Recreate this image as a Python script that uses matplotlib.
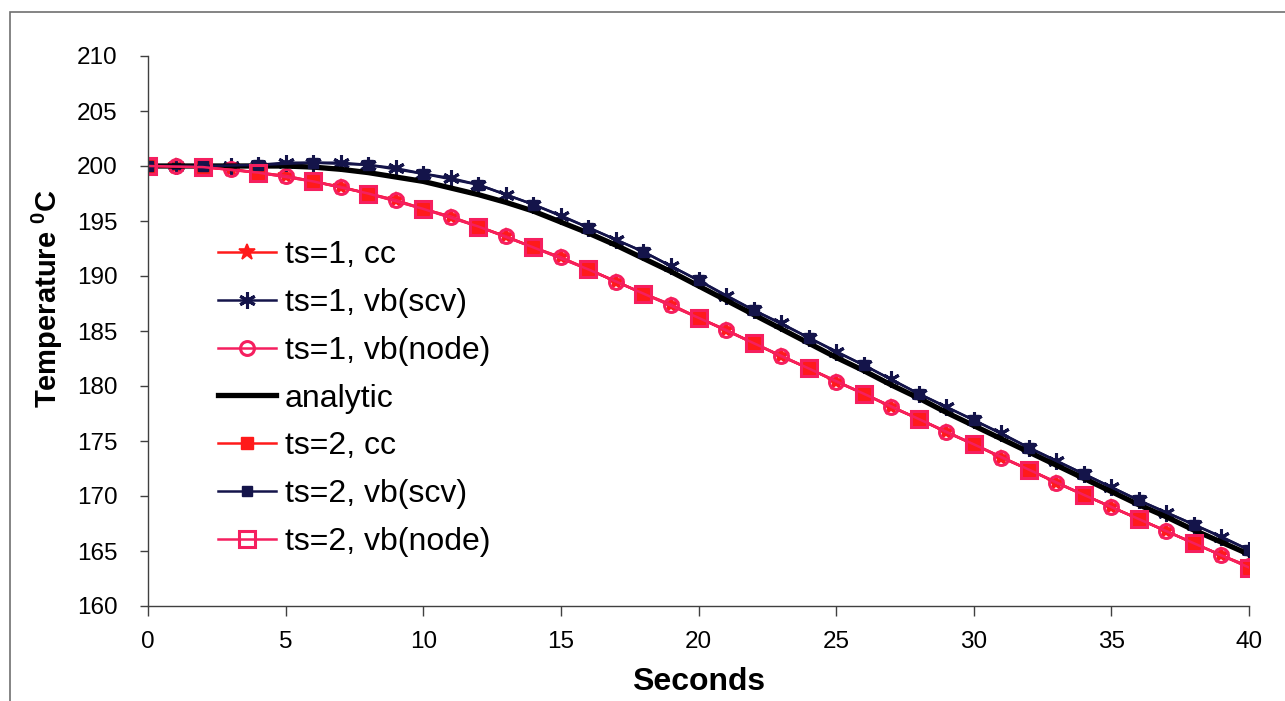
import matplotlib
matplotlib.use("Agg")
import matplotlib.pyplot as plt
from matplotlib.patches import Rectangle

plt.rcParams['font.family'] = ['Liberation Sans', 'DejaVu Sans']
plt.rcParams['mathtext.fontset'] = 'custom'
plt.rcParams['mathtext.rm'] = 'Liberation Sans'
plt.rcParams['mathtext.bf'] = 'Liberation Sans:bold'

# ---- data ----
t1 = list(range(0, 41))
t2 = list(range(0, 41, 2))

ts1_cc = [200.0, 200.0, 199.9, 199.7, 199.4, 199.1, 198.6, 198.1, 197.5, 196.9,
          196.1, 195.4, 194.5, 193.6, 192.6, 191.7, 190.6, 189.5, 188.4, 187.4,
          186.2, 185.1, 183.9, 182.7, 181.6, 180.4, 179.3, 178.1, 177.0, 175.8,
          174.7, 173.5, 172.4, 171.2, 170.1, 169.0, 167.9, 166.8, 165.7, 164.6, 163.6]
ts1_node = list(ts1_cc)
ts1_scv = [200.0, 200.0, 200.0, 200.0, 200.1, 200.3, 200.3, 200.3, 200.1, 199.8,
           199.3, 198.9, 198.3, 197.4, 196.5, 195.5, 194.4, 193.3, 192.2, 190.9,
           189.6, 188.2, 186.9, 185.7, 184.4, 183.1, 181.9, 180.6, 179.3, 178.1,
           176.9, 175.7, 174.4, 173.2, 172.0, 170.8, 169.6, 168.5, 167.4, 166.3, 165.1]
analytic = [200.0, 200.0, 200.0, 200.0, 200.0, 200.0, 199.9, 199.7, 199.4, 199.0,
            198.6, 198.0, 197.4, 196.7, 195.9, 194.9, 193.9, 192.8, 191.6, 190.4,
            189.1, 187.8, 186.5, 185.2, 183.9, 182.6, 181.4, 180.1, 178.9, 177.6,
            176.4, 175.2, 174.0, 172.8, 171.6, 170.4, 169.2, 168.1, 166.9, 165.8, 164.7]
ts2_cc = [200.0, 199.9, 199.4, 198.6, 197.5, 196.1, 194.5, 192.6, 190.6, 188.4,
          186.2, 183.9, 181.6, 179.3, 177.0, 174.7, 172.4, 170.1, 167.9, 165.7, 163.5]
ts2_node = list(ts2_cc)
ts2_scv = [200.0, 200.0, 200.1, 200.3, 200.1, 199.3, 198.3, 196.5, 194.4, 192.2,
           189.6, 186.9, 184.4, 181.9, 179.3, 176.9, 174.4, 172.0, 169.6, 167.4, 165.1]

labels = ['ts=1, cc', 'ts=1, vb(scv)', 'ts=1, vb(node)', 'analytic',
          'ts=2, cc', 'ts=2, vb(scv)', 'ts=2, vb(node)']
xticks = [0, 5, 10, 15, 20, 25, 30, 35, 40]
yticks = [160, 165, 170, 175, 180, 185, 190, 195, 200, 205, 210]

RED = '#FF1A1A'
PINK = '#F51F5F'
NAVY = '#14144A'

W, H = 1285, 701
fig = plt.figure(figsize=(W / 100, H / 100), dpi=100)
ax = fig.add_axes([148 / W, 1 - 606 / H, (1249 - 148) / W, (606 - 56) / H])

ax.plot(t1, ts1_cc, color=RED, lw=1.8, marker='*', ms=12, mew=1.2, label=labels[0])
ax.plot(t1, ts1_scv, color=NAVY, lw=1.8, marker=(6, 2, 0), ms=12, mew=2.2, label=labels[1])
ax.plot(t1, ts1_node, color=PINK, lw=1.8, marker='o', ms=10, mfc='none', mew=2.2, label=labels[2])
ax.plot(t1, analytic, color='black', lw=3.8, label=labels[3])
ax.plot(t2, ts2_cc, color=RED, lw=1.8, marker='s', ms=9, label=labels[4])
ax.plot(t2, ts2_scv, color=NAVY, lw=1.8, marker='s', ms=6.5, label=labels[5])
ax.plot(t2, ts2_node, color=PINK, lw=1.8, marker='s', ms=11, mfc='none', mew=2.2, label=labels[6])

ax.set_xlim(0, 40)
ax.set_ylim(160, 210)
ax.set_xticks(xticks)
ax.set_yticks(yticks)
ax.tick_params(axis='both', labelsize=17.5, color='#404040', width=1, length=6, direction='out')
ax.tick_params(axis='x', pad=11, length=7)
ax.tick_params(axis='y', pad=16)
for s in ['top', 'right']:
    ax.spines[s].set_visible(False)
for s in ['left', 'bottom']:
    ax.spines[s].set_color('#404040')
    ax.spines[s].set_linewidth(1)

ax.set_xlabel('Seconds', fontsize=23, fontweight='bold', labelpad=10)
fig.text(47 / W, 1 - 298 / H, r'Temperature $\mathbf{^{0}}$C', rotation=90,
         fontsize=21, fontweight='bold', ha='center', va='center')

leg = ax.legend(loc='upper left', bbox_to_anchor=(0.052, 0.688), frameon=False,
                fontsize=23, handlelength=1.8, handletextpad=0.3, labelspacing=0.555,
                borderaxespad=0)

fig.patches.append(Rectangle((10 / W, -0.05), 1.1, 1 - 12 / H + 0.05, transform=fig.transFigure,
                             fill=False, edgecolor='#707070', lw=1.2))

fig.savefig('out.png', dpi=100)
